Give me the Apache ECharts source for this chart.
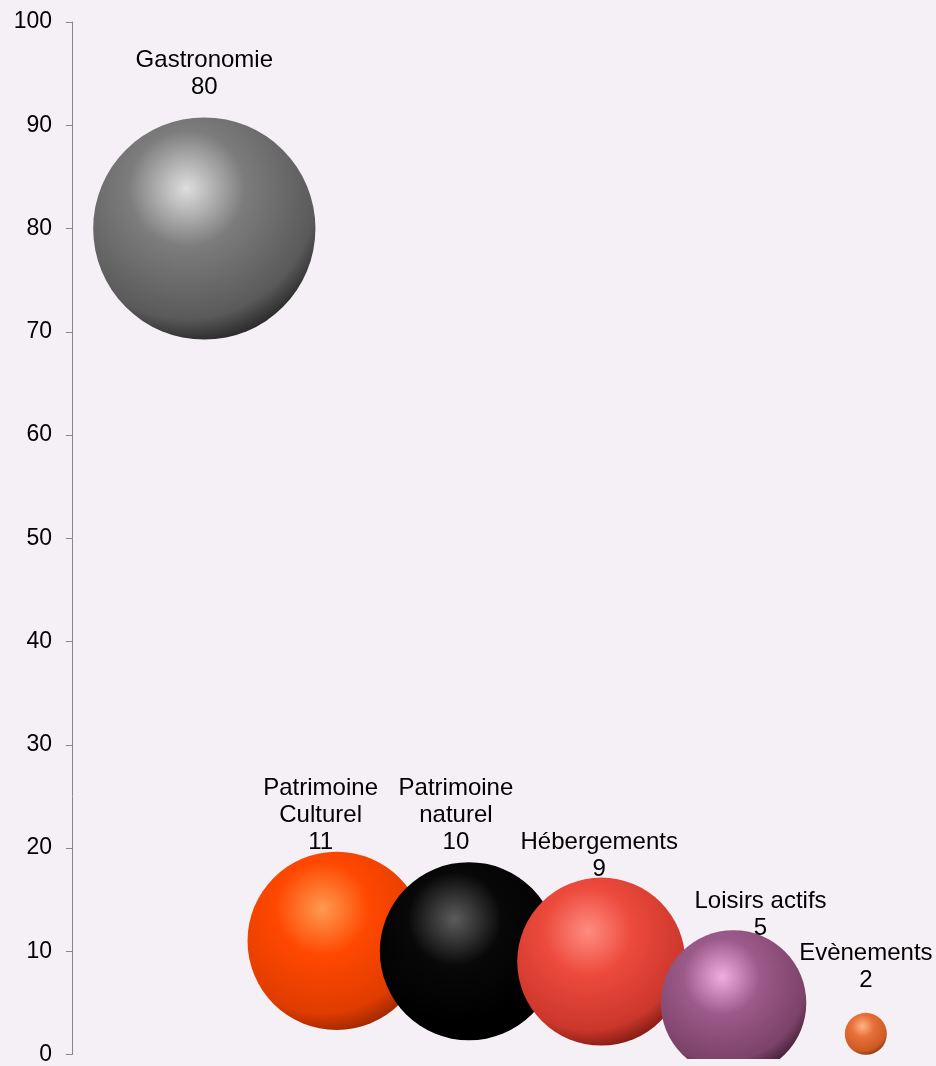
<!DOCTYPE html>
<html>
<head>
<meta charset="utf-8">
<script src="https://cdn.jsdelivr.net/npm/echarts@6/dist/echarts.min.js"></script>
<style>
    html, body {
        margin: 0;
        padding: 0;
        background-color: #F5F0F5;
    }
    #chart {
        width: 936px;
        height: 1066px;
    }
</style>
</head>
<body>
<div id="chart"></div>
<script>
// données
const names = ['Gastronomie', 'Patrimoine\nCulturel', 'Patrimoine\nnaturel', 'Hébergements', 'Loisirs actifs', 'Evènements'];
const positions = [1, 2, 3, 4, 5, 6];
const values = [80, 11, 10, 9, 5, 2];
const bubbleWeights = [28, 18, 18, 16, 12, 1];
const yTicks = [0, 10, 20, 30, 40, 50, 60, 70, 80, 90, 100];

// couleurs des sphères : [reflet, teinte, ombre, bord]
const palettes = [
    ['#dedede', '#7c7c7c', '#5a5a5a', '#141414'],
    ['#ff9a50', '#ff4800', '#e03c00', '#842000'],
    ['#5c5c5c', '#080808', '#000000', '#000000'],
    ['#ff8c80', '#ec4a3c', '#cc372b', '#641108'],
    ['#f0aee0', '#9c5a8a', '#7c4268', '#2a1022'],
    ['#ffb482', '#e8703a', '#cc5a24', '#702a08']
];
// placement des étiquettes (comme dans Excel)
const labelGap = [17, -4, 6, -5, -12, 19];
const labelShift = [0, -16, -13, -2, 27, 0];

function sphere(p) {
    return {
        type: 'radial',
        x: 0.42,
        y: 0.32,
        r: 0.75,
        colorStops: [
            { offset: 0, color: p[0] },
            { offset: 0.35, color: p[1] },
            { offset: 0.78, color: p[2] },
            { offset: 1, color: p[3] }
        ]
    };
}

const chart = echarts.init(document.getElementById('chart'));

const option = {
    backgroundColor: '#F5F0F5',
    animation: false,
    grid: {
        left: 72,
        right: 4,
        top: 22,
        bottom: 7
    },
    xAxis: {
        type: 'value',
        min: 0,
        max: 6.5,
        show: false
    },
    yAxis: {
        type: 'value',
        min: yTicks[0],
        max: yTicks[yTicks.length - 1],
        interval: 10,
        splitLine: { show: false },
        axisLine: {
            show: true,
            lineStyle: { color: '#868686', width: 1 }
        },
        axisTick: {
            show: true,
            length: 6,
            lineStyle: { color: '#868686' }
        },
        axisLabel: {
            margin: 20,
            color: '#000000',
            fontSize: 23,
            fontFamily: 'Liberation Sans, Arial, sans-serif'
        }
    },
    graphic: [{
        // masque sous l'axe, la bulle Loisirs actifs est coupée à 0
        type: 'rect',
        z: 100,
        shape: { x: 73, y: 1059, width: 870, height: 20 },
        style: { fill: '#F5F0F5' }
    }],
    series: [{
        type: 'scatter',
        data: values.map((v, i) => ({
            value: [positions[i], v],
            name: names[i],
            symbolSize: 42 * Math.sqrt(bubbleWeights[i]),
            itemStyle: { color: sphere(palettes[i]), opacity: 1 },
            label: { distance: labelGap[i], offset: [labelShift[i], 0] }
        })),
        itemStyle: { opacity: 1 },
        label: {
            show: true,
            position: 'top',
            color: '#000000',
            opacity: 1,
            fontSize: 24,
            lineHeight: 27,
            align: 'center',
            fontFamily: 'Liberation Sans, Arial, sans-serif',
            formatter: p => p.name + '\n' + p.value[1]
        }
    }]
};

chart.setOption(option);
</script>
</body>
</html>
